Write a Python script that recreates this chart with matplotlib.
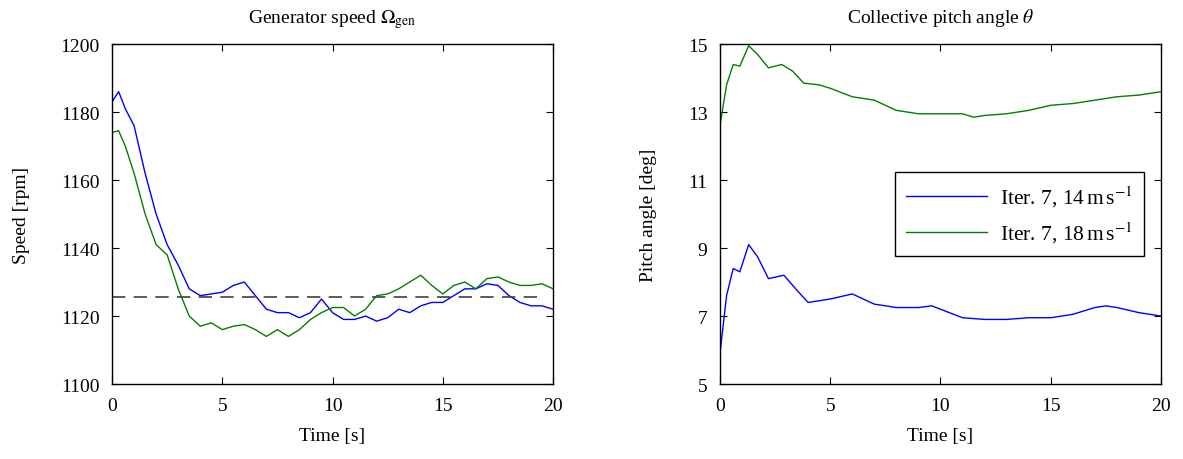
import matplotlib
matplotlib.use("Agg")
import matplotlib.pyplot as plt

plt.rcParams['font.family'] = ['Liberation Serif', 'DejaVu Serif']
plt.rcParams['mathtext.fontset'] = 'stix'
plt.rcParams['font.size'] = 14

t_speed = [0, 0.3, 0.6, 1, 1.5, 2, 2.5, 3, 3.5, 4, 4.5, 5, 5.5, 6, 6.5, 7, 7.5, 8, 8.5, 9, 9.5,
           10, 10.5, 11, 11.5, 12, 12.5, 13, 13.5, 14, 14.5, 15, 15.5, 16, 16.5, 17, 17.5, 18,
           18.5, 19, 19.5, 20]
speed_14 = [1183, 1186, 1181, 1176, 1162, 1150, 1141, 1135, 1128, 1126, 1126.5, 1127, 1129, 1130,
            1126, 1122, 1121, 1121, 1119.5, 1121, 1125, 1121, 1119, 1119, 1120, 1118.5, 1119.5,
            1122, 1121, 1123, 1124, 1124, 1126, 1128, 1128, 1129.5, 1129, 1126, 1124, 1123,
            1123, 1122]
speed_18 = [1174, 1174.5, 1170, 1162, 1150, 1141, 1138, 1128, 1120, 1117, 1118, 1116, 1117,
            1117.5, 1116, 1114, 1116, 1114, 1116, 1119, 1121, 1122.5, 1122.5, 1120, 1122, 1126,
            1126.5, 1128, 1130, 1132, 1129, 1126.5, 1129, 1130, 1128, 1131, 1131.5, 1130, 1129,
            1129, 1129.5, 1128]
ref_speed = 1125.7
ref_t = [0, 19.4]

t_p18 = [0, 0.3, 0.6, 0.9, 1.3, 1.7, 2.2, 2.8, 3.3, 3.8, 4.5, 5, 6, 7, 8, 9, 10, 11, 11.5, 12,
         13, 14, 15, 16, 17, 18, 19, 20]
pitch_18 = [12.6, 13.8, 14.4, 14.35, 14.95, 14.7, 14.3, 14.4, 14.2, 13.85, 13.8, 13.7, 13.45,
            13.35, 13.05, 12.95, 12.95, 12.95, 12.85, 12.9, 12.95, 13.05, 13.2, 13.25, 13.35,
            13.45, 13.5, 13.6]
t_p14 = [0, 0.3, 0.6, 0.9, 1.3, 1.7, 2.2, 2.9, 3.5, 4, 5, 6, 7, 8, 9, 9.6, 10, 11, 12, 13, 14,
         15, 16, 17, 17.5, 18, 19, 20]
pitch_14 = [5.9, 7.6, 8.4, 8.3, 9.1, 8.75, 8.1, 8.2, 7.75, 7.4, 7.5, 7.65, 7.35, 7.25, 7.25,
            7.3, 7.2, 6.95, 6.9, 6.9, 6.95, 6.95, 7.05, 7.25, 7.3, 7.25, 7.1, 7.0]

blue = (0, 0, 1)
green = (0, 0.5, 0)

fig = plt.figure(figsize=(11.83, 4.6), dpi=100)
ax1 = fig.add_axes([0.0947, 0.163, 0.3728, 0.739])
ax2 = fig.add_axes([0.6086, 0.163, 0.3728, 0.739])

ax1.plot(t_speed, speed_14, color=blue, lw=1)
ax1.plot(t_speed, speed_18, color=green, lw=1)
ax1.plot(ref_t, [ref_speed, ref_speed], color=(0.25, 0.25, 0.25), lw=1.2, dashes=(8, 5))
ax1.set_xlim(0, 20)
ax1.set_ylim(1100, 1200)
ax1.set_xticks([0, 5, 10, 15, 20])
ax1.set_yticks([1100, 1120, 1140, 1160, 1180, 1200])
ax1.set_xlabel('Time [s]', labelpad=10)
ax1.set_ylabel('Speed [rpm]', labelpad=22)
ax1.set_title(r'Generator speed $\Omega_{\rm gen}$', fontsize=14, pad=16)

ax2.plot(t_p14, pitch_14, color=blue, lw=1, label=r'Iter. 7, 14$\,$m$\,$s$^{-1}$')
ax2.plot(t_p18, pitch_18, color=green, lw=1, label=r'Iter. 7, 18$\,$m$\,$s$^{-1}$')
ax2.set_xlim(0, 20)
ax2.set_ylim(5, 15)
ax2.set_xticks([0, 5, 10, 15, 20])
ax2.set_yticks([5, 7, 9, 11, 13, 15])
ax2.set_xlabel('Time [s]', labelpad=10)
ax2.set_ylabel('Pitch angle [deg]', labelpad=22)
ax2.set_title(r'Collective pitch angle $\theta$', fontsize=14, pad=16)
leg = ax2.legend(loc='center right', bbox_to_anchor=(0.985, 0.50), fancybox=False,
                 edgecolor='black', framealpha=1, handlelength=3.8, handletextpad=0.6,
                 fontsize=15.5, borderpad=0.5, labelspacing=0.5)
leg.get_frame().set_linewidth(1)

for ax in (ax1, ax2):
    ax.tick_params(direction='in', top=True, right=True, length=5, labelsize=14, pad=9)
    for s in ax.spines.values():
        s.set_linewidth(1)

fig.savefig('out.png', dpi=100)
